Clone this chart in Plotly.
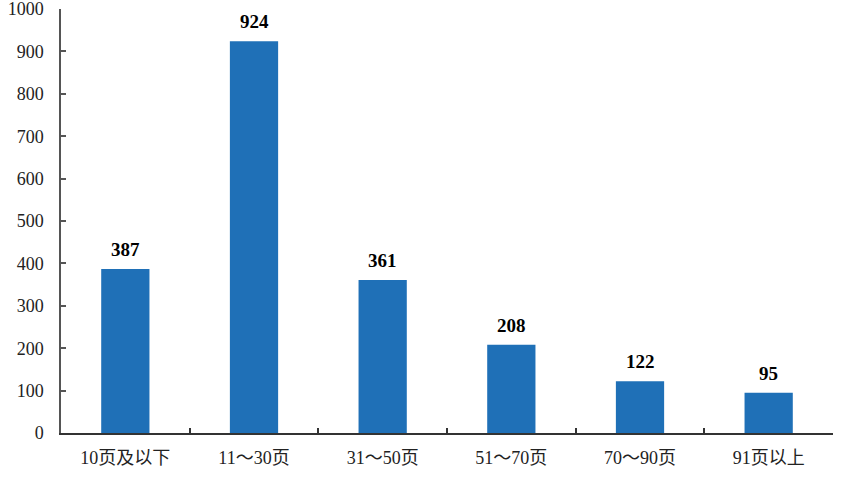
import plotly.graph_objects as go

categories = ["10页及以下", "11～30页", "31～50页", "51～70页", "70～90页", "91页以上"]
values = [387, 924, 361, 208, 122, 95]
y_ticks = list(range(0, 1001, 100))

fig = go.Figure()
fig.add_trace(go.Bar(
    x=categories, y=values,
    marker=dict(color="#1F70B7", line=dict(width=0)),
    cliponaxis=False,
))
for c, v in zip(categories, values):
    fig.add_annotation(x=c, y=v, text=f"<b>{v}</b>", showarrow=False,
                       yanchor="bottom", yshift=7,
                       font=dict(family="Liberation Serif", size=19, color="#000"))

fig.update_layout(
    width=855, height=486,
    margin=dict(l=61, r=22, t=9, b=53),
    paper_bgcolor="white", plot_bgcolor="white",
    bargap=0.625,
    showlegend=False,
    font=dict(family="Liberation Serif, Noto Sans CJK SC", size=18, color="#222"),
)
fig.update_xaxes(
    automargin=False,
    showline=True, linecolor="#333", linewidth=1.5,
    ticks="inside", tickson="boundaries", ticklen=5, tickcolor="#333", tickwidth=1.5,
    showgrid=False,
    ticklabelstandoff=8,
    tickfont=dict(family="Liberation Serif, Noto Sans CJK SC", size=18, color="#222"),
)
fig.update_yaxes(
    automargin=False,
    range=[0, 1000], tickvals=y_ticks,
    showline=True, linecolor="#555", linewidth=1.5,
    ticks="inside", ticklen=5, tickcolor="#555", tickwidth=1.5,
    showgrid=False, zeroline=False,
    ticklabelstandoff=12,
    ticklabeloverflow="allow",
    tickfont=dict(family="Liberation Serif", size=18, color="#222"),
)
fig.write_html("out.html", config={"displayModeBar": False},
               post_script="document.body.style.margin='0';")
